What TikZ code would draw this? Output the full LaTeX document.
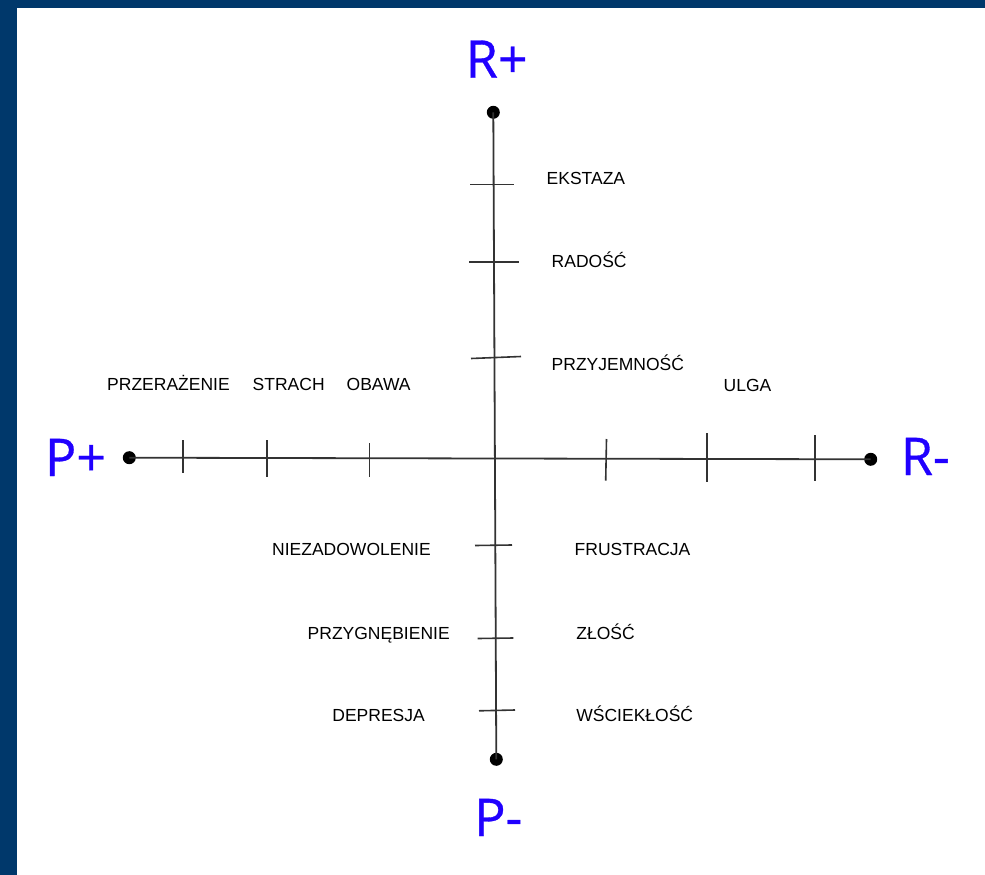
\documentclass[tikz,border=0pt]{standalone}
\usepackage{fontspec}
\setmainfont{Liberation Sans}
\newfontfamily\bigfont{Open Sans}[FakeBold=0.6]
\definecolor{framecol}{HTML}{00386B}
\definecolor{poleblue}{RGB}{32,0,255}
\definecolor{axisline}{HTML}{333333}
\begin{document}
\begin{tikzpicture}[x=1pt,y=-1pt,
  lbl/.style={inner sep=0pt, anchor=base west, font=\fontsize{17.5}{20}\selectfont, text=black},
  pole/.style={inner sep=0pt, anchor=base, font=\bigfont\fontsize{52}{60}\selectfont, text=poleblue},
  dot/.style={circle, fill=black, inner sep=0pt, minimum size=13pt},
  axisln/.style={draw=axisline, line width=1.8pt},
  tickln/.style={draw=axisline, line width=1.6pt}]
% background and frame
\fill[white] (0,0) rectangle (985,875);
\fill[framecol] (0,0) rectangle (17,875);
\fill[framecol] (0,0) rectangle (985,8);
\useasboundingbox (0,0) rectangle (985,875);

% pole dots
\node[dot] (top) at (493.3,112.3) {};
\node[dot] (bottom) at (496.3,759.3) {};
\node[dot] (left) at (129.3,457.7) {};
\node[dot] (right) at (870.7,459.3) {};

% axes
\draw[axisln] (top.center) -- (bottom.center);
\draw[axisln] (left.center) -- (right.center);

% ticks on vertical axis
\draw[tickln] (470,184.3) -- (514.3,184.3);
\draw[tickln] (469,262) -- (519,262);
\draw[tickln] (471,358.5) -- (521,356.5);
\draw[tickln] (475,545.5) -- (512,545);
\draw[tickln] (477.7,638.5) -- (513.3,638);
\draw[tickln] (479,710.8) -- (515,710);

% ticks on horizontal axis
\draw[tickln] (182.7,440) -- (182.7,473.3);
\draw[tickln] (266.7,440) -- (266.7,477);
\draw[tickln] (369.3,443) -- (369.3,477);
\draw[tickln] (606.5,439) -- (605.7,480.7);
\draw[tickln] (706.7,433) -- (706.7,482);
\draw[tickln] (815,435) -- (815,481);

% pole labels
\node[pole] (rplus) at (496.7,77.7) {R+};
\node[pole] (pminus) at (498.3,836) {P-};
\node[pole] (pplus) at (75.5,476) {P+};
\node[pole] (rminus) at (925.3,475) {R-};

% emotion labels
\node[lbl] (ekstaza) at (546.5,184) {EKSTAZA};
\node[lbl] (radosc) at (551.5,267) {RADOŚĆ};
\node[lbl] (przyjemnosc) at (551.5,370.7) {PRZYJEMNOŚĆ};
\node[lbl] (ulga) at (723.5,391) {ULGA};
\node[lbl] (przerazenie) at (107,390.7) {PRZERAŻENIE};
\node[lbl] (strach) at (252.5,390.7) {STRACH};
\node[lbl] (obawa) at (346.5,390.7) {OBAWA};
\node[lbl] (niezadowolenie) at (272,555.7) {NIEZADOWOLENIE};
\node[lbl] (frustracja) at (574.5,555.7) {FRUSTRACJA};
\node[lbl] (przygnebienie) at (307.5,639) {PRZYGNĘBIENIE};
\node[lbl] (zlosc) at (576.2,639) {ZŁOŚĆ};
\node[lbl] (depresja) at (332.2,721.7) {DEPRESJA};
\node[lbl] (wsciekosc) at (576.2,721.7) {WŚCIEKŁOŚĆ};
\end{tikzpicture}
\end{document}
